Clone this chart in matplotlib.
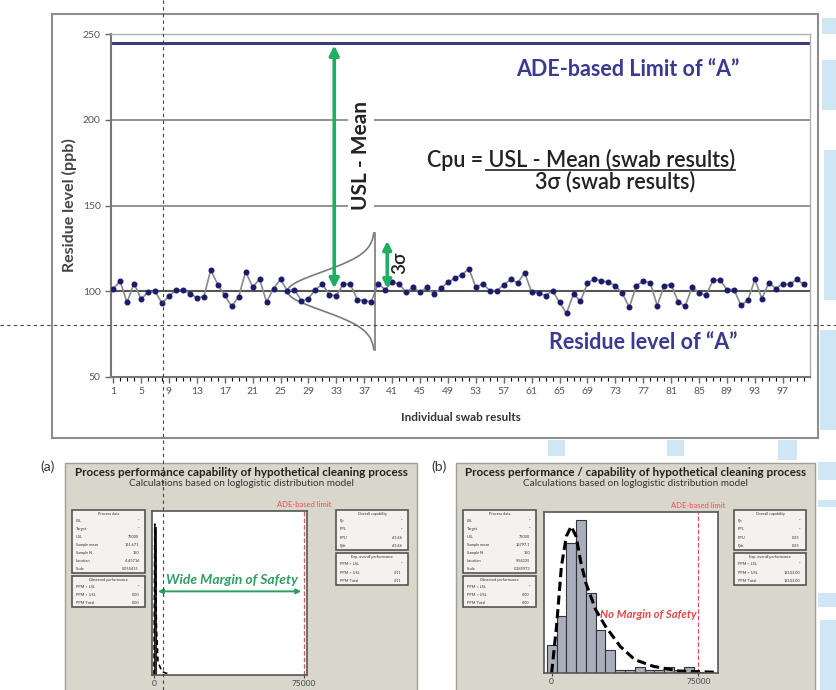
import numpy as np
import matplotlib
matplotlib.use("Agg")
import matplotlib.pyplot as plt
from matplotlib.patches import Rectangle
from matplotlib.lines import Line2D

plt.rcParams['font.family'] = ['Lato', 'DejaVu Sans']

W, H = 836, 690

# ---- datos del grafico superior (resultados de hisopado) ----
swab_no = np.arange(1, 101)
residue = [101.4, 105.9, 93.5, 104.5, 95.5, 99.4, 100.0, 93.1, 97.0, 100.6,
           101.0, 98.6, 96.3, 96.7, 112.4, 103.9, 97.6, 91.2, 96.7, 111.4,
           102.5, 107.0, 93.7, 101.6, 106.9, 100.2, 101.0, 94.3, 95.7, 101.0,
           104.1, 98.0, 97.3, 104.3, 104.3, 95.1, 94.5, 93.9, 104.3, 101.0,
           105.3, 104.3, 99.4, 102.4, 99.4, 102.4, 98.4, 101.8, 105.3, 107.6,
           109.6, 113.1, 102.4, 104.3, 100.4, 100.4, 103.7, 106.9, 104.9, 110.8,
           99.4, 99.0, 97.5, 100.4, 93.5, 87.2, 98.4, 94.1, 104.7, 107.3,
           105.9, 105.3, 103.3, 98.8, 90.6, 103.3, 105.9, 104.9, 91.6, 103.3,
           103.9, 94.0, 91.2, 102.5, 99.0, 97.6, 106.5, 106.5, 101.0, 101.0,
           91.8, 94.7, 106.9, 95.7, 104.9, 101.6, 104.1, 104.1, 106.9, 104.1]
mean_level = 100
ade_limit = 245
three_sigma = 31
x_ticks = list(range(1, 98, 4))
y_ticks = [50, 100, 150, 200, 250]

# curva normal ilustrativa (girada)
bell_base_x = 38.5
bell_height = 12.5
bell_sigma = 11.2

# ---- datos de los paneles inferiores ----
a_bar_x = [500]
a_bar_h = [90]
a_fit_x = [0, 400, 800, 1200, 2000, 4000, 8000]
a_fit_y = [0, 92, 70, 30, 8, 2, 0.3]

b_bin_centers = [0, 5000, 10000, 15000, 20000, 25000, 30000, 35000, 40000,
                 45000, 50000, 55000, 60000, 65000, 70000, 75000]
b_counts = [8.5, 17, 39, 46, 24, 13, 7, 1, 1, 1.7, 1, 1, 1.7, 1, 1.7, 0.4]
b_fit_x = [0, 2500, 5000, 7500, 10000, 12500, 15000, 17500, 22500, 27500,
           35000, 42500, 52000, 65000, 85000]
b_fit_y = [0, 14, 32, 41, 44, 41, 33, 27, 19, 14, 8, 4, 2, 0.6, 0.2]
usl = 75000

a_process = [("LSL", "*"), ("Target", "*"), ("USL", "75000"), ("Sample mean", "161.671"),
             ("Sample N", "150"), ("Location", "4.45716"), ("Scale", "0.055415")]
b_process = [("LSL", "*"), ("Target", "*"), ("USL", "75000"), ("Sample mean", "18797.1"),
             ("Sample N", "150"), ("Location", "9.54235"), ("Scale", "0.385973")]
observed = [("PPM < LSL", "*"), ("PPM > USL", "0.00"), ("PPM Total", "0.00")]
a_overall = [("Pp", "*"), ("PPL", "*"), ("PPU", "43.46"), ("Ppk", "43.46")]
b_overall = [("Pp", "*"), ("PPL", "*"), ("PPU", "0.35"), ("Ppk", "0.35")]
a_expected = [("PPM < LSL", "*"), ("PPM > USL", "0.11"), ("PPM Total", "0.11")]
b_expected = [("PPM < LSL", "*"), ("PPM > USL", "13533.00"), ("PPM Total", "13533.00")]


def fx(px):
    return px / W


def fy(py):
    return 1 - py / H


def frect(x0, y0, x1, y1, **kw):
    return Rectangle((fx(x0), fy(y1)), (x1 - x0) / W, (y1 - y0) / H,
                     transform=fig.transFigure, **kw)


fig = plt.figure(figsize=(W / 100, H / 100), dpi=100)

# decoracion azul claro del fondo
light = '#cfe7f4'
for r in [(820, 330, 836, 430), (548, 440, 565, 456), (667, 440, 684, 456),
          (778, 440, 797, 460), (818, 462, 836, 480), (818, 500, 836, 507),
          (818, 593, 836, 607), (820, 620, 836, 690), (822, 60, 836, 110),
          (824, 150, 836, 300), (822, 18, 836, 34)]:
    fig.add_artist(frect(*r, facecolor=light, edgecolor='none', zorder=0))

# marco del grafico superior
fig.add_artist(frect(52, 14, 818, 438, fill=False, edgecolor='#8c8c8c', lw=1.5, zorder=1))

ax = fig.add_axes([fx(111), fy(377), (810 - 111) / W, (377 - 34) / H])
ax.set_xlim(0.7, 100.9)
ax.set_ylim(50, 250)
for g in [150, 200]:
    ax.axhline(g, color='#8a8a8a', lw=1.3, zorder=1)
ax.axhline(mean_level, color='#555555', lw=1.5, zorder=2)
ax.axhline(ade_limit, color='#3b3b78', lw=2.2, zorder=2)
ax.plot(swab_no, residue, color='#8a8a8a', lw=1.2, zorder=3)
ax.plot(swab_no, residue, 'o', color='#1b1b6e', ms=3.3, zorder=4)

# curva normal
yy = np.linspace(mean_level - 34, mean_level + 34, 200)
xx = bell_base_x - bell_height * np.exp(-(yy - mean_level) ** 2 / (2 * bell_sigma ** 2))
ax.plot(xx, yy, color='#7a7a7a', lw=1.2, zorder=3)
ax.plot([bell_base_x, bell_base_x], [yy[0], yy[-1]], color='#7a7a7a', lw=1.2, zorder=3)

green = '#1fae63'
ax.annotate('', xy=(32.7, ade_limit), xytext=(32.7, mean_level),
            arrowprops=dict(arrowstyle='<|-|>', color=green, lw=2.6, mutation_scale=14), zorder=5)
ax.annotate('', xy=(40.3, mean_level + three_sigma), xytext=(40.3, mean_level),
            arrowprops=dict(arrowstyle='<|-|>', color=green, lw=2.6, mutation_scale=12), zorder=5)

ax.set_xticks(x_ticks)
ax.set_xticks(range(1, 101), minor=True)
ax.set_yticks(y_ticks)
ax.tick_params(axis='both', colors='#666666', labelsize=7.5, labelcolor='#555555')
ax.tick_params(axis='x', which='major', length=4, width=1)
ax.tick_params(axis='x', which='minor', length=3, width=0.8)
ax.tick_params(axis='y', length=4, width=1)
for s in ['top', 'right']:
    ax.spines[s].set_color('#b0b0b0')
    ax.spines[s].set_linewidth(1.0)
for s in ['left', 'bottom']:
    ax.spines[s].set_color('#777777')
    ax.spines[s].set_linewidth(1.5)
ax.set_xlabel('Individual swab results', fontsize=8.5, fontweight='bold', color='#333333', labelpad=11)
ax.set_ylabel('Residue level (ppb)', fontsize=11.5, fontweight='bold', color='#444444', labelpad=4)

navy = '#3a3a8e'
fig.text(fx(628), fy(70), 'ADE-based Limit of \u201cA\u201d', ha='center', va='center',
         fontsize=15.5, fontweight='bold', color=navy)
fig.text(fx(643), fy(343), 'Residue level of \u201cA\u201d', ha='center', va='center',
         fontsize=15.5, fontweight='bold', color=navy)
fig.text(fx(735), fy(160), 'Cpu = USL - Mean (swab results)', ha='right', va='center',
         fontsize=15.5, color='#222222', fontweight='semibold')
fig.add_artist(Line2D([fx(486), fx(735)], [fy(170), fy(170)], color='#333333', lw=1.3))
fig.text(fx(535), fy(182), '3\u03c3 (swab results)', ha='left', va='center', fontsize=15.5,
         color='#222222', fontweight='semibold')
fig.text(fx(361), fy(155), 'USL - Mean', rotation=90, ha='center', va='center', fontsize=15,
         fontweight='bold', color='#222222', zorder=6,
         bbox=dict(facecolor='white', edgecolor='none', pad=2))
fig.text(fx(400), fy(263), '3\u03c3', rotation=90, ha='center', va='center', fontsize=13.5,
         color='#222222', fontweight='semibold')


def draw_box(x0, y0, x1, y1, title, rows):
    fig.add_artist(frect(x0, y0, x1, y1, facecolor='#f3f2ee', edgecolor='#555555', lw=1.2, zorder=2))
    fig.text(fx((x0 + x1) / 2), fy(y0 + 4), title, ha='center', va='center', fontsize=2.8,
             color='#333333', zorder=3)
    step = (y1 - y0 - 7) / len(rows)
    for i, (k, v) in enumerate(rows):
        yk = y0 + 8 + step * i + step / 2 - 1
        fig.text(fx(x0 + 4), fy(yk), k, ha='left', va='center', fontsize=2.8, color='#333333', zorder=3)
        fig.text(fx(x1 - 6), fy(yk), v, ha='right', va='center', fontsize=2.8, color='#333333', zorder=3)


def draw_panel(x0, x1, label, title, plot_box, process, overall, expected):
    fig.add_artist(frect(x0, 463, x1, 700, facecolor='#d9d6cc', edgecolor='#a09e96', lw=1, zorder=1))
    fig.text(fx(x0 - 17), fy(467), label, ha='center', va='center', fontsize=10, color='#333333')
    fig.text(fx((x0 + x1) / 2), fy(473), title, ha='center', va='center', fontsize=8.4,
             fontweight='bold', color='#222222')
    fig.text(fx((x0 + x1) / 2), fy(484), 'Calculations based on loglogistic distribution model',
             ha='center', va='center', fontsize=7.2, color='#333333')
    draw_box(x0 + 7, 510, x0 + 80, 573, 'Process data', process)
    draw_box(x0 + 7, 576, x0 + 80, 607, 'Observed performance', observed)
    draw_box(x1 - 81, 510, x1 - 9, 550, 'Overall capability', overall)
    draw_box(x1 - 81, 553, x1 - 9, 585, 'Exp. overall performance', expected)
    px0, py0, px1, py1 = plot_box
    pax = fig.add_axes([fx(px0), fy(py1), (px1 - px0) / W, (py1 - py0) / H], zorder=2)
    pax.set_yticks([])
    pax.set_xticks([0, usl])
    pax.set_xticklabels(['0', '75000'])
    pax.tick_params(axis='x', labelsize=6, length=2, colors='#444444', pad=1.5)
    for s in pax.spines.values():
        s.set_color('#555555')
        s.set_linewidth(1.2)
    pax.axvline(usl, color='#e05555', ls='--', lw=0.9)
    pax.text(usl, 1.02, 'ADE-based limit', transform=pax.get_xaxis_transform(), ha='center',
             va='bottom', fontsize=5.5, color='#e05555', clip_on=False)
    return pax


# panel (a)
pa = draw_panel(65, 417, '(a)', 'Process performance capability of hypothetical cleaning process',
                (152, 511, 307, 675), a_process, a_overall, a_expected)
pa.set_xlim(-1000, 76500)
pa.set_ylim(0, 100)
pa.bar(a_bar_x, a_bar_h, width=1100, color='#333333', edgecolor='#111111', lw=0.6)
pa.plot(a_fit_x, a_fit_y, color='black', ls=(0, (3, 2)), lw=1.2)
pa.annotate('', xy=(usl, 51), xytext=(600, 51),
            arrowprops=dict(arrowstyle='<|-|>', color='#2aa060', lw=1.4, mutation_scale=7))
pa.text(39000, 58, 'Wide Margin of Safety', ha='center', va='center', fontsize=10,
        fontweight='bold', fontstyle='italic', color='#2e9e63')

# panel (b)
pb = draw_panel(456, 815, '(b)', 'Process performance / capability of hypothetical cleaning process',
                (544, 512, 718, 673), b_process, b_overall, b_expected)
pb.set_xlim(-3900, 85000)
pb.set_ylim(0, 48.3)
pb.bar(b_bin_centers, b_counts, width=5000, color='#a8aebb', edgecolor='#333333', lw=0.8)
pb.plot(b_fit_x, b_fit_y, color='black', ls=(0, (3, 1.5)), lw=2.2)
pb.text(49300, 17.4, 'No Margin of Safety', ha='center', va='center', fontsize=8.2,
        fontweight='bold', fontstyle='italic', color='#e04848')

# lineas de referencia discontinuas (cruz)
fig.add_artist(Line2D([fx(163), fx(163)], [0, 1], ls=(0, (3, 3)), color='#444444', lw=0.8, zorder=10))
fig.add_artist(Line2D([0, 1], [fy(325), fy(325)], ls=(0, (3, 3)), color='#444444', lw=0.8, zorder=10))

fig.savefig('out.png', dpi=100)
